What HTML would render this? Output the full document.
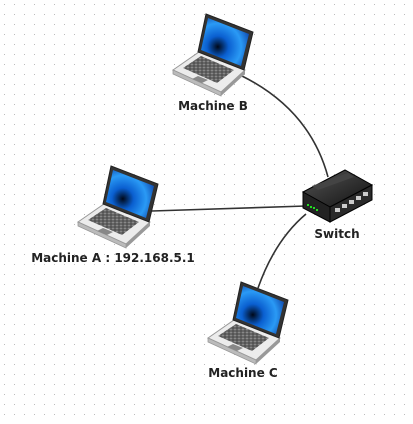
<!DOCTYPE html>
<html><head><style>
html,body{margin:0;padding:0;background:#fff;}
svg{display:block;}
text{font-family:"DejaVu Sans","Liberation Sans",sans-serif;font-weight:bold;font-size:12px;fill:#222;}
</style></head><body>
<svg width="413" height="424" xmlns="http://www.w3.org/2000/svg">
<defs>
<pattern id="g" width="10" height="10" patternUnits="userSpaceOnUse">
<rect x="4" y="4" width="1" height="1" fill="#bbb"/>
</pattern>
<radialGradient id="scr" cx="0.35" cy="0.6" r="0.75">
<stop offset="0" stop-color="#000818"/><stop offset="0.3" stop-color="#0a5fd0"/><stop offset="0.65" stop-color="#2a9af5"/><stop offset="1" stop-color="#0a3aa0"/>
</radialGradient>
<pattern id="keys" width="4" height="3" patternUnits="userSpaceOnUse">
<rect width="4" height="3" fill="#444"/><rect x="0.5" y="0.5" width="3" height="2" fill="#888"/>
</pattern>
<g id="lap">
<polygon points="3,58 51,80 75,58 29,40" fill="#ececec" stroke="#999" stroke-width="1"/>
<polygon points="3,58 51,80 51,84 3,62" fill="#bbb" stroke="#999" stroke-width="0.8"/>
<polygon points="51,80 75,58 75,62 51,84" fill="#999"/>
<polygon points="13,56 47,71 64,58 31,44" fill="url(#keys)"/>
<polygon points="22,67 32,71 38,68 28,64" fill="#888"/>
<polygon points="36,2 83,20 74,58 28,40" fill="#333" stroke="#222"/>
<polygon points="38,6 79,22 71,54 31,38" fill="url(#scr)"/>
</g>
<linearGradient id="sw" x1="0" y1="0" x2="1" y2="1"><stop offset="0" stop-color="#555"/><stop offset="1" stop-color="#111"/></linearGradient>
</defs>
<rect width="413" height="424" fill="url(#g)"/>
<g fill="none" stroke="#333" stroke-width="1.6">
<path d="M242,76 Q310,110 328,177"/>
<path d="M152,211 L306,206"/>
<path d="M258,288 Q275,240 306,214"/>
</g>
<use href="#lap" x="170" y="12"/>
<use href="#lap" x="75" y="164"/>
<use href="#lap" x="205" y="280"/>
<g>
<polygon points="303,192 345,170 372,185 330,207" fill="url(#sw)" stroke="#000"/>
<polygon points="303,192 330,207 330,222 303,208" fill="#222" stroke="#000"/>
<polygon points="330,207 372,185 372,200 330,222" fill="#2a2a2a" stroke="#000"/>
<polygon points="312,186 348,173 354,177 318,190" fill="#444"/>
<g fill="#2d2" ><rect x="307" y="204" width="2" height="2"/><rect x="310" y="206" width="2" height="2"/><rect x="313" y="207" width="2" height="2"/><rect x="316" y="209" width="2" height="2"/></g>
<g fill="#ccc"><rect x="335" y="208" width="5" height="4"/><rect x="342" y="204" width="5" height="4"/><rect x="349" y="200" width="5" height="4"/><rect x="356" y="196" width="5" height="4"/><rect x="363" y="192" width="5" height="4"/></g>
</g>
<text x="213" y="110" text-anchor="middle">Machine B</text>
<text x="337" y="238" text-anchor="middle">Switch</text>
<text x="113" y="262" text-anchor="middle">Machine A : 192.168.5.1</text>
<text x="243" y="377" text-anchor="middle">Machine C</text>
</svg>
</body></html>
